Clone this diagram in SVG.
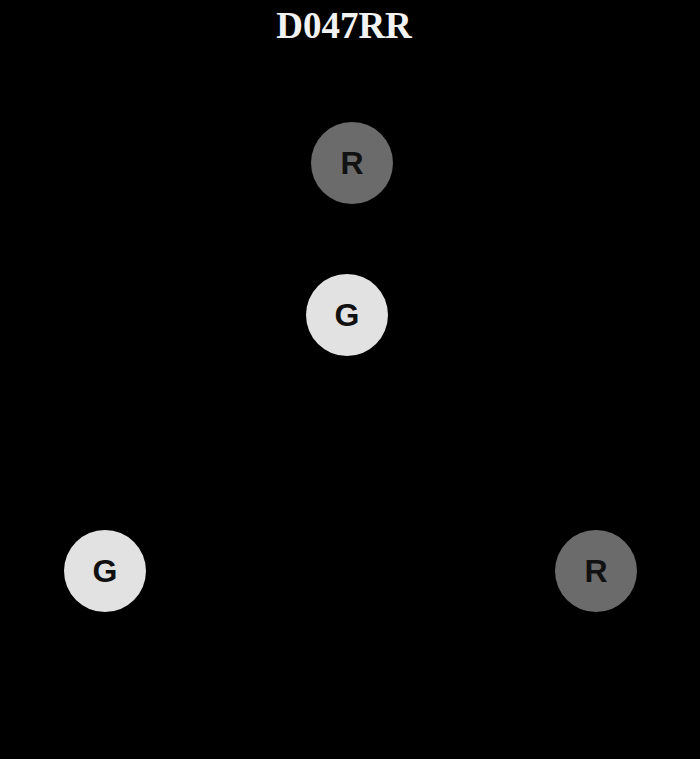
<svg xmlns="http://www.w3.org/2000/svg" width="700" height="759" viewBox="0 0 700 759">
<style>
.bg{fill:#000}
.title{font-family:"Liberation Serif",serif;font-weight:bold;font-size:37px;fill:#f2f2f2;text-anchor:middle}
.r{fill:#6b6b6b}
.g{fill:#e2e2e2}
.lbl{font-family:"Liberation Sans",Arial,sans-serif;font-weight:bold;font-size:32px;fill:#111;text-anchor:middle;dominant-baseline:central}
</style>
<rect class="bg" x="0" y="0" width="700" height="759"/>
<text class="title" x="344" y="38">D047RR</text>
<g id="connectors"></g>
<g id="node-r1"><circle class="r" cx="352" cy="163" r="41"/><text class="lbl" x="352" y="163">R</text></g>
<g id="node-g1"><circle class="g" cx="347" cy="315" r="41"/><text class="lbl" x="347" y="315">G</text></g>
<g id="node-g2"><circle class="g" cx="105" cy="571" r="41"/><text class="lbl" x="105" y="571">G</text></g>
<g id="node-r2"><circle class="r" cx="596" cy="571" r="41"/><text class="lbl" x="596" y="571">R</text></g>
</svg>
